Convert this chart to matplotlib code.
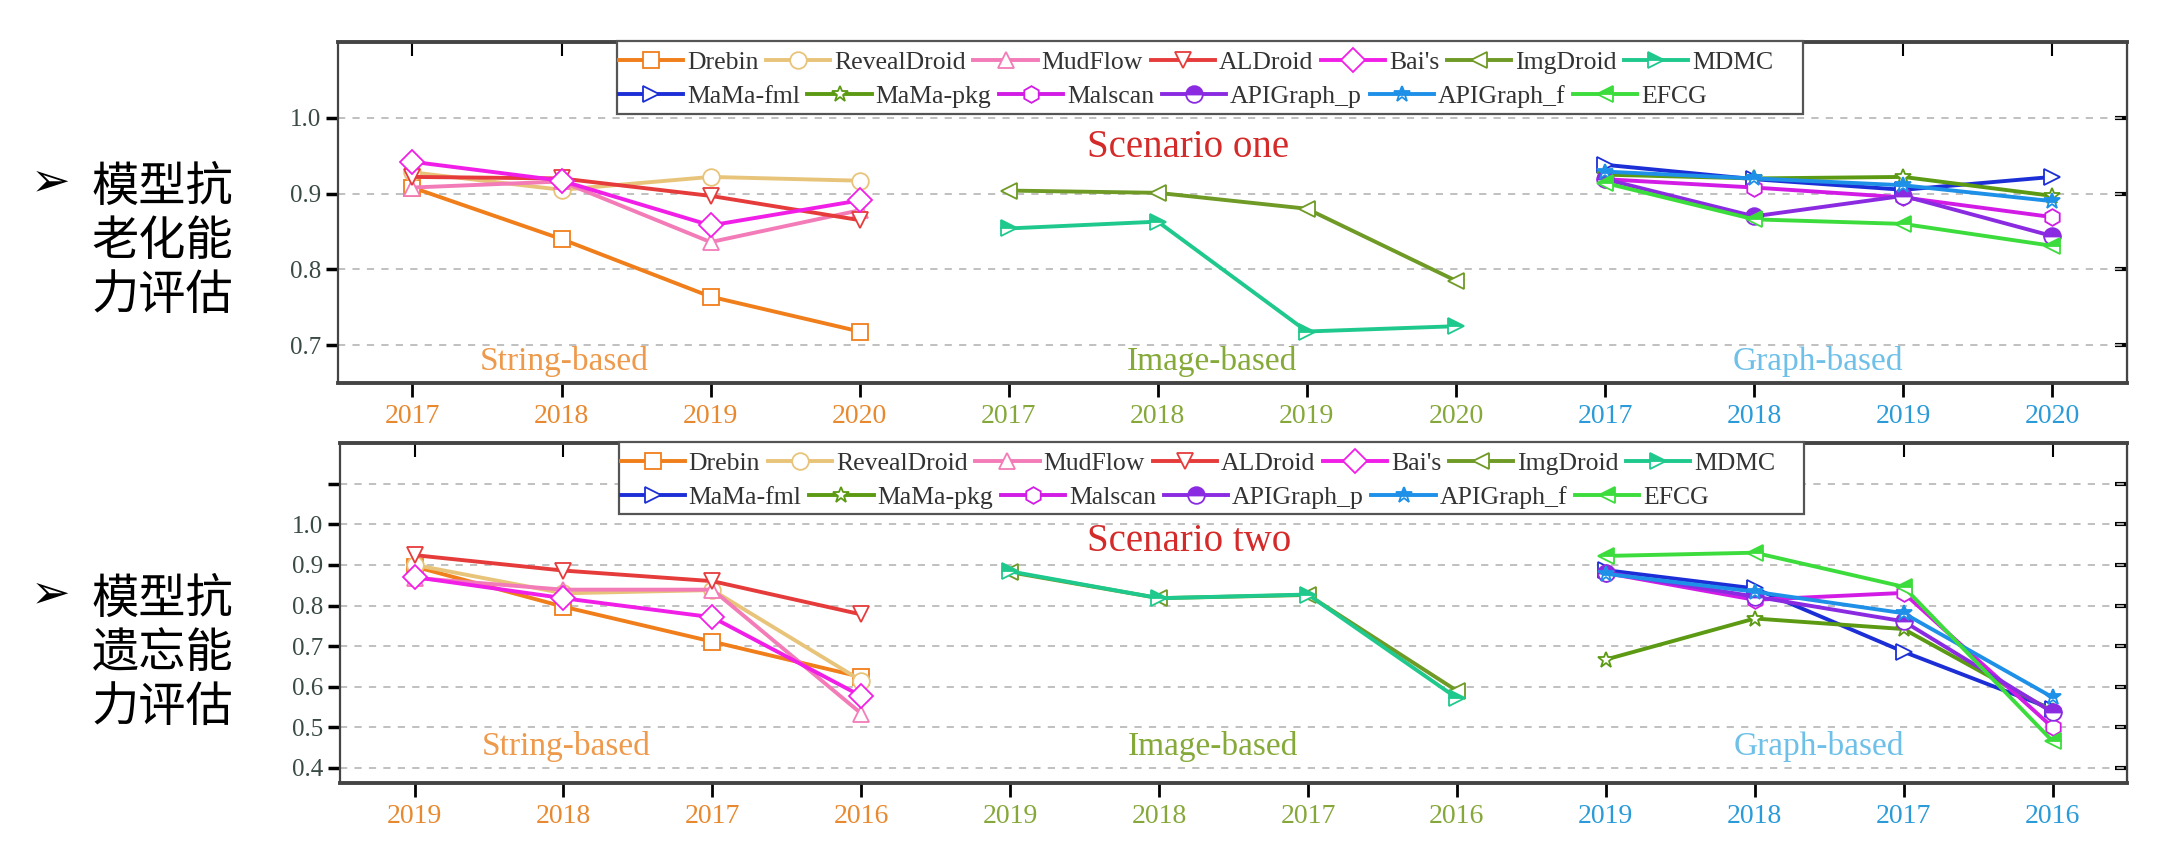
import numpy as np
import matplotlib.pyplot as plt
from matplotlib.patches import Rectangle

plt.rcParams['font.family'] = ['Liberation Serif', 'DejaVu Serif']

years_one = ["2017", "2018", "2019", "2020"]
years_two = ["2019", "2018", "2017", "2016"]
group_names = ["String-based", "Image-based", "Graph-based"]

methods = ["Drebin", "RevealDroid", "MudFlow", "ALDroid", "Bai's", "ImgDroid", "MDMC",
           "MaMa-fml", "MaMa-pkg", "Malscan", "APIGraph_p", "APIGraph_f", "EFCG"]
method_group = [0, 0, 0, 0, 0, 1, 1, 2, 2, 2, 2, 2, 2]

# scenario one: model anti-aging
one_drebin = [0.908, 0.840, 0.764, 0.718]
one_revealdroid = [0.928, 0.905, 0.922, 0.917]
one_mudflow = [0.908, 0.916, 0.836, 0.878]
one_aldroid = [0.922, 0.920, 0.897, 0.865]
one_bais = [0.942, 0.917, 0.858, 0.891]
one_imgdroid = [0.904, 0.901, 0.880, 0.785]
one_mdmc = [0.854, 0.863, 0.718, 0.725]
one_mama_fml = [0.938, 0.919, 0.905, 0.922]
one_mama_pkg = [0.925, 0.920, 0.922, 0.897]
one_malscan = [0.919, 0.908, 0.895, 0.869]
one_apigraph_p = [0.919, 0.870, 0.897, 0.844]
one_apigraph_f = [0.929, 0.920, 0.911, 0.890]
one_efcg = [0.914, 0.866, 0.860, 0.831]

# scenario two: model anti-forgetting
two_drebin = [0.896, 0.797, 0.711, 0.624]
two_revealdroid = [0.900, 0.830, 0.838, 0.615]
two_mudflow = [0.868, 0.839, 0.839, 0.534]
two_aldroid = [0.924, 0.886, 0.860, 0.778]
two_bais = [0.870, 0.818, 0.771, 0.577]
two_imgdroid = [0.882, 0.818, 0.826, 0.590]
two_mdmc = [0.884, 0.818, 0.827, 0.572]
two_mama_fml = [0.887, 0.842, 0.686, 0.545]
two_mama_pkg = [0.667, 0.768, 0.742, 0.540]
two_malscan = [0.880, 0.814, 0.831, 0.500]
two_apigraph_p = [0.881, 0.822, 0.761, 0.537]
two_apigraph_f = [0.878, 0.834, 0.781, 0.574]
two_efcg = [0.922, 0.930, 0.846, 0.466]

scenario_one = [one_drebin, one_revealdroid, one_mudflow, one_aldroid, one_bais, one_imgdroid,
                one_mdmc, one_mama_fml, one_mama_pkg, one_malscan, one_apigraph_p,
                one_apigraph_f, one_efcg]
scenario_two = [two_drebin, two_revealdroid, two_mudflow, two_aldroid, two_bais, two_imgdroid,
                two_mdmc, two_mama_fml, two_mama_pkg, two_malscan, two_apigraph_p,
                two_apigraph_f, two_efcg]

colors = ['#F07E1A', '#E8C47A', '#F27BB8', '#E63B3B', '#F01EE6', '#6E9A25', '#1FC98E',
          '#1C2FD6', '#5C9A14', '#D21CE6', '#8A2BE2', '#1E90E8', '#3DDC3D']
markers = ['s', 'o', '^', 'v', 'D', '<', '>', '>', '*', 'h', 'o', '*', '<']
fills = ['full', 'full', 'full', 'full', 'full', 'full', 'top',
         'full', 'full', 'full', 'top', 'top', 'top']
group_colors = ['#E8892F', '#86A83A', '#2A9BD8']
label_colors = ['#EE9A4C', '#86AA3A', '#6EC0E8']

fig = plt.figure(figsize=(21.8, 8.51), dpi=100)
ax1 = fig.add_axes([0.155, 0.5499, 0.8206, 0.4007])
ax2 = fig.add_axes([0.156, 0.0799, 0.8197, 0.3995])


def draw(ax, data, years, ylim, yticks, ylabels, title, title_y, label_y):
    lines = []
    for i, vals in enumerate(data):
        g = method_group[i]
        xs = np.arange(4) + 4 * g
        if fills[i] == 'full':
            fc, alt = 'white', 'white'
        else:
            fc, alt = colors[i], 'white'
        ln, = ax.plot(xs, vals, color=colors[i], lw=2.8, marker=markers[i], ms=12,
                      mfc=fc, mfcalt=alt, fillstyle=fills[i], mec=colors[i], mew=1.3,
                      label=methods[i], zorder=3)
        lines.append(ln)
    ax.set_xlim(-0.5, 11.5)
    ax.set_ylim(*ylim)
    ax.set_xticks(range(12), years * 3)
    for k, t in enumerate(ax.get_xticklabels()):
        t.set_color(group_colors[k // 4])
    ax.set_yticks(yticks, ylabels)
    ax.grid(axis='y', color='#BBBBBB', lw=1.3, ls=(0, (4, 4)))
    ax.tick_params(axis='x', direction='out', length=10, width=2, labelsize=20, pad=5)
    ax.tick_params(axis='y', direction='out', length=9, width=2.5, labelsize=18,
                   labelcolor='#3A4A44', pad=3)
    for s in ['top', 'bottom']:
        ax.spines[s].set_linewidth(2.8)
        ax.spines[s].set_color('#444444')
    for s in ['left', 'right']:
        ax.spines[s].set_linewidth(1.6)
        ax.spines[s].set_color('#444444')
    top = ax.secondary_xaxis('top')
    top.set_xticks(range(12), [''] * 12)
    top.tick_params(direction='in', length=10, width=1.5)
    right = ax.secondary_yaxis('right')
    right.set_yticks(yticks, [''] * len(yticks))
    right.tick_params(direction='in', length=9, width=3)

    ax.text(5.2, title_y, title, color='#D42A2A', fontsize=28, ha='center', va='center')
    for k, (gx, name) in enumerate(zip([1.02, 5.36, 9.43], group_names)):
        ax.text(gx, label_y, name, color=label_colors[k], fontsize=24,
                ha='center', va='center')

    # legend box with two rows
    ax.add_patch(Rectangle((0.156, 0.79), 0.663, 0.212, transform=ax.transAxes,
                           facecolor='white', edgecolor='#555555', lw=1.6, zorder=5,
                           clip_on=False))
    kw = dict(loc='center left', frameon=False, fontsize=18.5, handlelength=2.5,
              handletextpad=0.15, columnspacing=0.3, borderpad=0, borderaxespad=0,
              labelcolor='#333333')
    leg1 = ax.legend(lines[:7], methods[:7], ncol=7, bbox_to_anchor=(0.157, 0.941), **kw)
    leg1.set_zorder(6)
    ax.add_artist(leg1)
    leg2 = ax.legend(lines[7:], methods[7:], ncol=6, bbox_to_anchor=(0.157, 0.839), **kw)
    leg2.set_zorder(6)


draw(ax1, scenario_one, years_one, (0.65, 1.1), [0.7, 0.8, 0.9, 1.0],
     ['0.7', '0.8', '0.9', '1.0'], 'Scenario one', 0.961, 0.678)
draw(ax2, scenario_two, years_two, (0.363, 1.2), [0.4, 0.5, 0.6, 0.7, 0.8, 0.9, 1.0, 1.1],
     ['0.4', '0.5', '0.6', '0.7', '0.8', '0.9', '1.0', ''], 'Scenario two', 0.958, 0.452)

cjk = ['Noto Sans CJK SC', 'DejaVu Sans']
fig.text(0.042, 0.7156, "模型抗\n老化能\n力评估", fontsize=34, family=cjk,
         ha='left', va='center', linespacing=1.15)
fig.text(0.042, 0.2315, "模型抗\n遗忘能\n力评估", fontsize=34, family=cjk,
         ha='left', va='center', linespacing=1.15)
fig.text(0.0234, 0.785, "➢", fontsize=34, family=['DejaVu Sans'], ha='center', va='center')
fig.text(0.0234, 0.3008, "➢", fontsize=34, family=['DejaVu Sans'], ha='center', va='center')

fig.savefig('out.png', dpi=100)
